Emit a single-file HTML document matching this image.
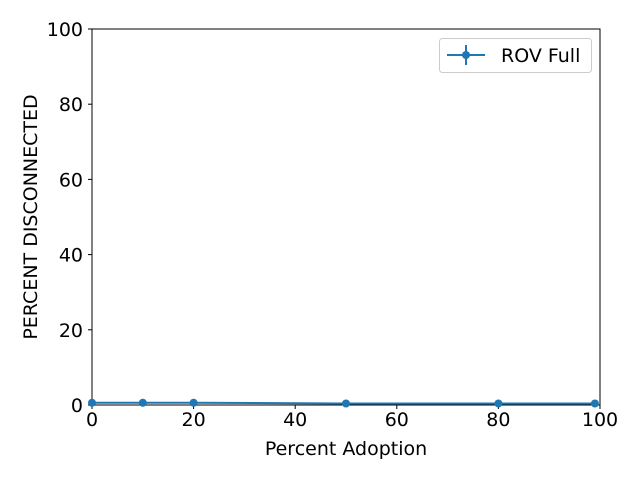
<!DOCTYPE html>
<html><head><meta charset="utf-8"><style>
body{margin:0;background:#fff;font-family:"Liberation Sans","DejaVu Sans",sans-serif;}
svg text{font-family:"DejaVu Sans","Liberation Sans",sans-serif;}
</style></head><body>
<svg id="chart" width="640" height="480" viewBox="0 0 640 480"></svg>
<script>
const xValues=[0,10,20,50,80,99];
const yValues=[0.6,0.6,0.6,0.4,0.4,0.4];
const xTicks=[0,20,40,60,80,100];
const yTicks=[0,20,40,60,80,100];
const seriesName="ROV Full";
const L=92,R=600,T=29,B=405;
const FS=19;
const sx=v=>L+(v-0)/(100-0)*(R-L);
const sy=v=>B-(v-0)/(100-0)*(B-T);
const ns="http://www.w3.org/2000/svg";
const svg=document.getElementById('chart');
function mk(tag,attrs,parent){const e=document.createElementNS(ns,tag);for(const k in attrs)e.setAttribute(k,attrs[k]);(parent||svg).appendChild(e);return e;}
const frame=mk('rect',{x:L,y:T,width:R-L,height:B-T,fill:'none',stroke:'#000','stroke-width':1});


xTicks.forEach(t=>{
 const l=mk('line',{x1:sx(t),x2:sx(t),y1:B,y2:B+4,stroke:'#000'});
 
 
 const tx=mk('text',{x:sx(t),y:B+21,'text-anchor':'middle','font-size':FS});
 tx.textContent=t;
 
 
});
yTicks.forEach(t=>{
 const l=mk('line',{x1:L-4,x2:L,y1:sy(t),y2:sy(t),stroke:'#000'});
 
 
 const tx=mk('text',{x:L-9,y:sy(t)+7,'text-anchor':'end','font-size':FS});
 tx.textContent=t;
 
 
});
const xt=mk('text',{x:(L+R)/2,y:455,'text-anchor':'middle','font-size':FS});
xt.textContent='Percent Adoption';


const yt=mk('text',{x:0,y:0,'text-anchor':'middle','font-size':FS,transform:`translate(37,${(T+B)/2}) rotate(-90)`});
yt.textContent='PERCENT DISCONNECTED';


const line=mk('polyline',{points:xValues.map((x,i)=>sx(x)+','+sy(yValues[i])).join(' '),fill:'none',stroke:'#1f77b4','stroke-width':2});


xValues.forEach((x,i)=>{
 const c=mk('circle',{cx:sx(x),cy:sy(yValues[i]),r:4,fill:'#1f77b4'});
 
 
});
const lg=mk('g',{});


mk('rect',{x:439.5,y:38.5,width:152,height:34,rx:3,fill:'#fff',stroke:'#ccc'},lg);
mk('line',{x1:447,x2:485,y1:55,y2:55,stroke:'#1f77b4','stroke-width':2},lg);
mk('line',{x1:466,x2:466,y1:45,y2:65,stroke:'#1f77b4','stroke-width':2},lg);
mk('circle',{cx:466,cy:55,r:4,fill:'#1f77b4'},lg);
const lt=mk('text',{x:501,y:62,'font-size':FS},lg);
lt.textContent=seriesName;


</script>
</body></html>
